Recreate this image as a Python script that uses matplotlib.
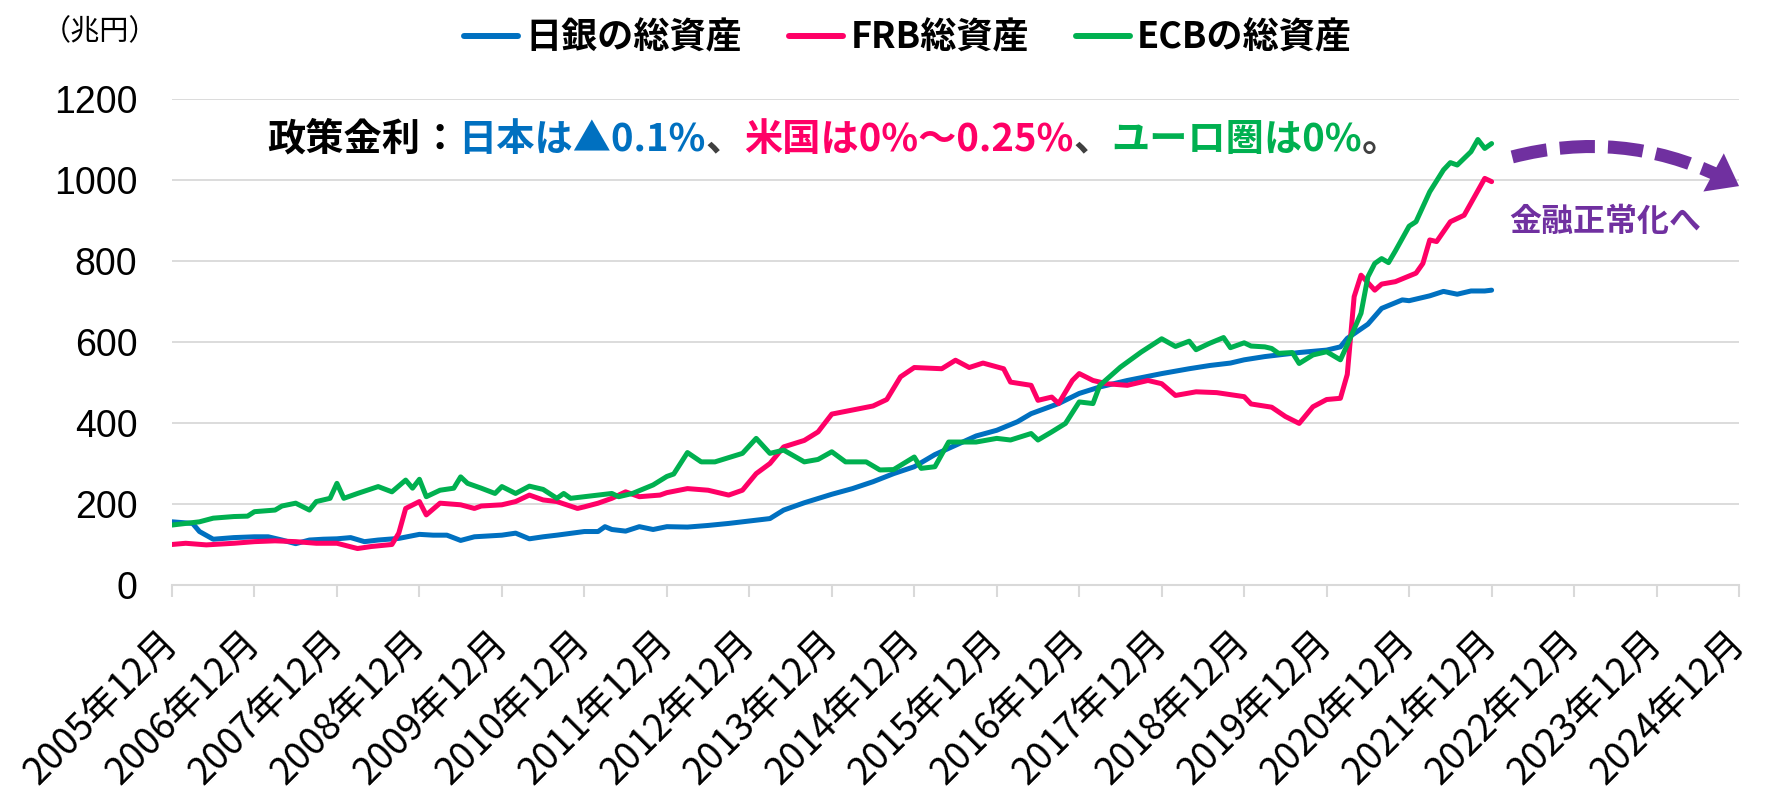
import matplotlib
matplotlib.use("Agg")
import matplotlib.pyplot as plt
from matplotlib.lines import Line2D

plt.rcParams['font.family'] = ['Noto Sans CJK JP', 'DejaVu Sans']

# month labels "YYYY-MM" and total assets (兆円)
boj_dates = ["2005-12",
             "2006-03", "2006-04", "2006-06", "2006-09", "2006-12",
             "2007-02", "2007-04", "2007-06", "2007-08", "2007-10", "2007-12",
             "2008-02", "2008-04", "2008-06", "2008-09", "2008-12",
             "2009-02", "2009-04", "2009-06", "2009-08", "2009-12",
             "2010-02", "2010-04", "2010-06", "2010-08", "2010-12",
             "2011-02", "2011-03", "2011-04", "2011-06", "2011-08", "2011-10", "2011-12",
             "2012-03", "2012-06", "2012-09", "2012-12",
             "2013-03", "2013-05", "2013-08", "2013-12",
             "2014-03", "2014-06", "2014-09", "2014-12",
             "2015-03", "2015-06", "2015-09", "2015-12",
             "2016-03", "2016-05", "2016-09", "2016-12",
             "2017-03", "2017-07", "2017-12",
             "2018-04", "2018-07", "2018-10", "2018-12",
             "2019-03", "2019-06", "2019-08", "2019-12",
             "2020-02", "2020-03", "2020-06", "2020-08", "2020-11", "2020-12",
             "2021-03", "2021-05", "2021-07", "2021-09", "2021-11", "2021-12"]
boj_vals = [156,
            152, 132, 113, 117, 119,
            119, 111, 102, 111, 113, 114,
            117, 107, 111, 115, 125,
            123, 123, 110, 119, 123,
            128, 114, 119, 123, 132,
            132, 144, 137, 133, 144, 137, 144,
            143, 147, 152, 158,
            164, 185, 203, 224,
            238, 255, 275, 292,
            322, 345, 368, 382,
            403, 423, 448, 473,
            489, 505, 522,
            534, 542, 548, 556,
            564, 570, 574, 580,
            588, 609, 644, 683, 704, 702,
            714, 725, 718, 726, 726, 728]

frb_dates = ["2005-12",
             "2006-02", "2006-05", "2006-09", "2006-12",
             "2007-03", "2007-06", "2007-09", "2007-12",
             "2008-03", "2008-05", "2008-08", "2008-09", "2008-10", "2008-12",
             "2009-01", "2009-03", "2009-06", "2009-08", "2009-09", "2009-12",
             "2010-02", "2010-04", "2010-06", "2010-08", "2010-11", "2010-12",
             "2011-02", "2011-04", "2011-06", "2011-08", "2011-11", "2011-12",
             "2012-03", "2012-06", "2012-09", "2012-11",
             "2013-01", "2013-03", "2013-05", "2013-08", "2013-10", "2013-12",
             "2014-03", "2014-06", "2014-08", "2014-10", "2014-12",
             "2015-04", "2015-06", "2015-08", "2015-10",
             "2016-01", "2016-02", "2016-05", "2016-06", "2016-08", "2016-09", "2016-11", "2016-12",
             "2017-02", "2017-04", "2017-07", "2017-10", "2017-12",
             "2018-02", "2018-05", "2018-08", "2018-10", "2018-12",
             "2019-01", "2019-04", "2019-06", "2019-08", "2019-10", "2019-12",
             "2020-02", "2020-03", "2020-04", "2020-05", "2020-07", "2020-08", "2020-10",
             "2021-01", "2021-02", "2021-03", "2021-04", "2021-06", "2021-08", "2021-11", "2021-12"]
frb_vals = [100,
            103, 99, 103, 107,
            109, 107, 103, 103,
            90, 95, 100, 128, 189, 206,
            173, 202, 198, 189, 195, 198,
            206, 222, 210, 206, 189, 193,
            202, 214, 230, 218, 222, 228,
            238, 234, 222, 234,
            275, 300, 341, 357, 378, 422,
            432, 442, 458, 514, 537,
            534, 555, 537, 548,
            534, 501, 493, 456, 464, 448, 505, 522,
            505, 497, 493, 505, 497,
            468, 477, 475, 470, 465,
            447, 439, 416, 399, 440, 458,
            461, 520, 712, 765, 728, 743, 749,
            770, 794, 852, 848, 897, 913, 1004, 996]

ecb_dates = ["2005-12",
             "2006-02", "2006-04", "2006-06", "2006-09", "2006-11", "2006-12",
             "2007-03", "2007-04", "2007-06", "2007-08", "2007-09", "2007-11", "2007-12",
             "2008-01", "2008-03", "2008-06", "2008-08", "2008-10", "2008-11", "2008-12",
             "2009-01", "2009-03", "2009-05", "2009-06", "2009-07", "2009-09", "2009-11", "2009-12",
             "2010-02", "2010-04", "2010-06", "2010-08", "2010-09", "2010-10", "2010-12",
             "2011-02", "2011-04", "2011-05", "2011-07", "2011-10", "2011-12",
             "2012-01", "2012-03", "2012-05", "2012-07", "2012-11",
             "2013-01", "2013-03", "2013-05", "2013-08", "2013-10", "2013-12",
             "2014-02", "2014-05", "2014-07", "2014-09", "2014-12",
             "2015-01", "2015-03", "2015-05", "2015-09", "2015-12",
             "2016-02", "2016-05", "2016-06", "2016-08", "2016-10", "2016-12",
             "2017-02", "2017-03", "2017-06", "2017-09", "2017-12",
             "2018-02", "2018-04", "2018-05", "2018-07", "2018-09", "2018-10", "2018-12",
             "2019-01", "2019-03", "2019-04", "2019-05", "2019-07", "2019-08", "2019-10", "2019-12",
             "2020-02", "2020-03", "2020-05", "2020-06", "2020-07", "2020-08", "2020-09", "2020-10", "2020-12",
             "2021-01", "2021-03", "2021-05", "2021-06", "2021-07", "2021-09", "2021-10", "2021-11", "2021-12"]
ecb_vals = [148,
            152, 156, 165, 169, 170, 181,
            185, 195, 202, 185, 206, 214, 251,
            214, 226, 243, 230, 259, 239, 261,
            218, 234, 239, 267, 251, 239, 226, 243,
            226, 244, 236, 214, 226, 214, 218,
            222, 226, 218, 226, 247, 268,
            274, 327, 304, 304, 325,
            362, 325, 333, 304, 310, 329,
            304, 304, 284, 285, 316,
            288, 292, 353, 353, 362,
            358, 374, 358, 378, 399, 452,
            448, 493, 538, 575, 608,
            589, 602, 581, 597, 611, 586, 598,
            590, 588, 584, 572, 574, 547, 568, 576,
            556, 593, 671, 761, 794, 806, 796, 825, 886,
            897, 971, 1025, 1043, 1037, 1070, 1100, 1078, 1090]

series_names = ["日銀の総資産", "FRB総資産", "ECBの総資産"]
series_colors = ["#0070C0", "#FF0066", "#00B050"]
tick_years = list(range(2005, 2025))
y_ticks = [0, 200, 400, 600, 800, 1000, 1200]

purple = "#7030A0"
grid_grey = "#D9D9D9"


def month_index(s):
    y, m = s.split("-")
    return (int(y) - 2005) * 12 + int(m) - 12


fig = plt.figure(figsize=(17.84, 7.96), dpi=100)
ax = fig.add_axes([0.0964, 0.2651, 0.8784, 0.6105])

all_series = [(boj_dates, boj_vals), (frb_dates, frb_vals), (ecb_dates, ecb_vals)]
for (dates, vals), name, col in zip(all_series, series_names, series_colors):
    ax.plot([month_index(d) for d in dates], vals, color=col, lw=3.6,
            solid_joinstyle="round", solid_capstyle="round", label=name, zorder=3)

ax.set_xlim(0, 228)
ax.set_ylim(0, 1200)
ax.set_xticks([(y - 2005) * 12 for y in tick_years])
ax.set_xticklabels([f"{y}年12月" for y in tick_years], rotation=45,
                   ha="right", va="center", rotation_mode="anchor",
                   fontsize=27)
ax.set_yticks(y_ticks)
ax.set_yticklabels([str(v) for v in y_ticks], fontsize=27,
                   family=["Liberation Sans", "DejaVu Sans"])
ax.tick_params(axis="x", length=8.6, width=1.5, color=grid_grey, pad=29)
ax.tick_params(axis="y", length=0, pad=25)
ax.grid(axis="y", color=grid_grey, lw=1.3, zorder=0)
for side in ["left", "right", "top"]:
    ax.spines[side].set_visible(False)
ax.spines["bottom"].set_color(grid_grey)
ax.spines["bottom"].set_linewidth(1.5)

# unit label
fig.text(100 / 1784, 1 - 32 / 796, "（兆円）", ha="center", va="center", fontsize=21)

# legend
handles = [Line2D([], [], color=c, lw=4.3, solid_capstyle="round") for c in series_colors]
fig.legend(handles, series_names, loc="center", bbox_to_anchor=(908 / 1784, 1 - 38 / 796),
           ncol=3, frameon=False, handlelength=1.5, handletextpad=0.2, columnspacing=1.3,
           prop={"size": 26, "weight": "bold"})

# policy rate note, multi-coloured
note_parts = [("政策金利", "black"), ("：", "black"), ("日本は▲0.1%", "#0070C0"),
              ("、", "#404040"), ("米国は0%～0.25%", "#FF0066"), ("、", "#404040"),
              ("ユーロ圏は0%", "#00B050"), ("。", "#404040")]
renderer = fig.canvas.get_renderer()
x = 267 / 1784
y = 1 - 139 / 796
for s, c in note_parts:
    t = fig.text(x, y, s, color=c, fontsize=27.5, fontweight="bold", va="center", ha="left")
    bb = t.get_window_extent(renderer)
    x = fig.transFigure.inverted().transform((bb.x1, 0))[0]

# outlook arrow
ax.annotate("", xy=(228, 985), xytext=(195, 1057), annotation_clip=False,
            arrowprops=dict(arrowstyle="-", color=purple, lw=9.4, ls=(0, (2.7, 1.0)),
                            connectionstyle="arc3,rad=-0.2", shrinkA=0, shrinkB=15,
                            capstyle="butt"))
ax.annotate("", xy=(228, 985), xytext=(-28, 15), textcoords="offset points",
            annotation_clip=False,
            arrowprops=dict(arrowstyle="-|>,head_length=0.8,head_width=0.6", color=purple,
                            lw=0, mutation_scale=26, shrinkA=0, shrinkB=0))
ax.text(1509 / 1784, 1 - 222 / 796, "金融正常化へ", transform=fig.transFigure,
        color=purple, fontsize=23, fontweight="bold", va="center", ha="left")

fig.savefig("out.png", dpi=100)
